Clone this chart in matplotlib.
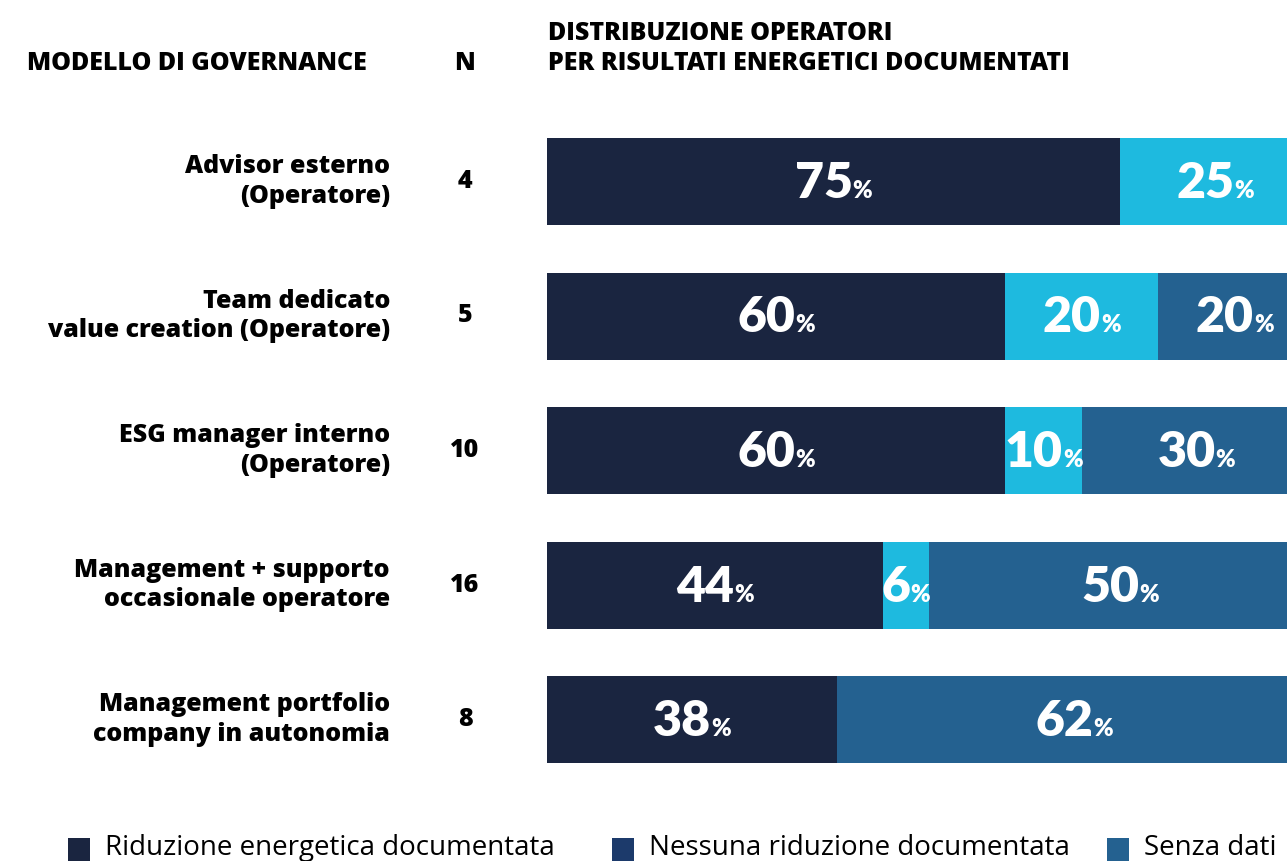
import matplotlib
matplotlib.use("Agg")
import matplotlib.pyplot as plt
import matplotlib.transforms as mtransforms
from matplotlib.patches import Rectangle

plt.rcParams['font.family'] = ['Open Sans', 'DejaVu Sans']

# dati
modelli = ["Advisor esterno\n(Operatore)",
           "Team dedicato\nvalue creation (Operatore)",
           "ESG manager interno\n(Operatore)",
           "Management + supporto\noccasionale operatore",
           "Management portfolio\ncompany in autonomia"]
n_oper = [4, 5, 10, 16, 8]
riduzione = [75, 60, 60, 44, 38]
nessuna = [25, 20, 10, 6, 0]
senza_dati = [0, 20, 30, 50, 62]

legend_labels = ["Riduzione energetica documentata",
                 "Nessuna riduzione documentata",
                 "Senza dati"]

c_navy = "#1a2540"
c_cyan = "#1ebadf"
c_blue = "#246190"
legend_colors = ["#1a2540", "#1c3a6b", "#246190"]

W, H = 1287, 861
fig = plt.figure(figsize=(W / 100, H / 100), dpi=100)

# asse delle barre (a destra va oltre il bordo, come nel riferimento)
left_px, full_px = 547, 764
top_c, step = 181.5, 134.5
ax_top = top_c - step / 2
ax_h = step * 5
ax = fig.add_axes([left_px / W, 1 - (ax_top + ax_h) / H, full_px / W, ax_h / H])
ax.set_xlim(0, 100)
ax.set_ylim(4.5, -0.5)
ax.axis('off')

rows = list(range(len(modelli)))
bh = 87 / step
ax.barh(rows, riduzione, height=bh, color=c_navy, linewidth=0)
ax.barh(rows, nessuna, left=riduzione, height=bh, color=c_cyan, linewidth=0)
lft = [a + b for a, b in zip(riduzione, nessuna)]
ax.barh(rows, senza_dati, left=lft, height=bh, color=c_blue, linewidth=0)

# etichette percentuali
pairs = []
for i in rows:
    start = 0
    for v in (riduzione[i], nessuna[i], senza_dati[i]):
        if v > 0:
            cx = start + v / 2
            t1 = ax.text(cx, i, str(v), ha='right', va='baseline', color='white',
                         fontsize=36, fontweight='heavy', family=['Lato'])
            t2 = ax.text(cx, i, '%', ha='left', va='baseline', color='white',
                         fontsize=17, fontweight='heavy', family=['Lato'])
            pairs.append((t1, t2, cx, i))
        start += v

fig.canvas.draw()
r = fig.canvas.get_renderer()
for t1, t2, cx, i in pairs:
    w1 = t1.get_window_extent(r).width
    w2 = t2.get_window_extent(r).width
    dx = (w1 - w2) / 2
    tr = mtransforms.offset_copy(ax.transData, fig=fig, x=dx, y=-16.5, units='dots')
    t1.set_transform(tr)
    t2.set_transform(tr)

# colonne a sinistra
bt = mtransforms.blended_transform_factory(fig.transFigure, ax.transData)
for i in rows:
    ax.text(390 / W, i, modelli[i], transform=bt, ha='right', va='center',
            fontsize=18, fontweight='heavy', color='black', linespacing=1.25)
    ax.text(465 / W, i, str(n_oper[i]), transform=bt, ha='center', va='center',
            fontsize=18, fontweight='heavy', color='black')

# intestazioni
fig.text(27 / W, 1 - 70 / H, "MODELLO DI GOVERNANCE", ha='left', va='baseline',
         fontsize=18, fontweight='heavy')
fig.text(465 / W, 1 - 70 / H, "N", ha='center', va='baseline',
         fontsize=18, fontweight='heavy')
fig.text(548 / W, 1 - 70 / H, "DISTRIBUZIONE OPERATORI\nPER RISULTATI ENERGETICI DOCUMENTATI",
         ha='left', va='baseline', fontsize=18, fontweight='heavy', linespacing=1.25)

# legenda
sq_x = [68, 612, 1107]
for x, lab, col in zip(sq_x, legend_labels, legend_colors):
    fig.patches.append(Rectangle((x / W, 0), 22 / W, 23 / H, transform=fig.transFigure,
                                 facecolor=col, edgecolor='none'))
    fig.text((x + 37) / W, 1 - 855 / H, lab, ha='left', va='baseline', fontsize=20,
             color='black')

fig.savefig("out.png", dpi=100)
